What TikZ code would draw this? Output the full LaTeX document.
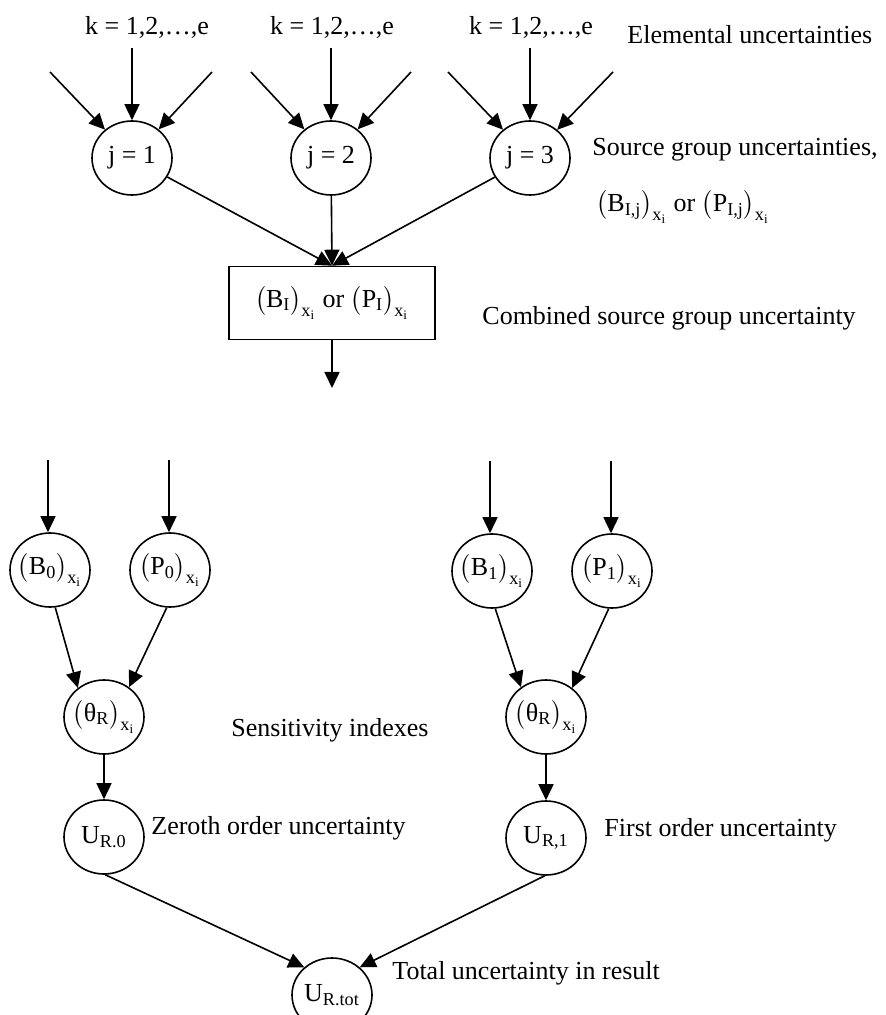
\documentclass[tikz,border=0pt]{standalone}
\usepackage{amsmath}
\usepackage{fontspec}
\setmainfont{Liberation Serif}
\usetikzlibrary{shapes.geometric,arrows.meta}
\newcommand\tx[1]{\text{#1}}
\newcommand\prx[2]{\bigl(\tx{#1}_{\tx{#2}}\bigr)_{\tx{x}_{\tx{i}}}}
\newcommand\fitin[1]{\makebox[0pt]{#1}}
\begin{document}
\begin{tikzpicture}[x=0.5pt,y=-0.5pt,
  every node/.style={font=\fontsize{13}{15}\selectfont},
  circ/.style={draw, ellipse, line width=0.8pt, minimum width=40pt, minimum height=37pt, inner sep=0pt},
  boxnode/.style={draw, rectangle, line width=0.8pt, minimum width=103pt, minimum height=36.5pt, inner sep=0pt},
  lbl/.style={anchor=west, inner sep=0pt},
  flow/.style={line width=0.8pt, -{Triangle[length=8pt,width=7.5pt]}},
  link/.style={line width=0.8pt}
]
\useasboundingbox (0,0) rectangle (885,1015);

% top labels
\node (k1) at (147,27) {k = 1,2,…,e};
\node (k2) at (332,27) {k = 1,2,…,e};
\node (k3) at (531,27) {k = 1,2,…,e};

% source group nodes
\node[circ] (j1) at (132,158) {j = 1};
\node[circ] (j2) at (331,158) {j = 2};
\node[circ] (j3) at (530,158) {j = 3};

% elemental inputs
\coordinate (a1) at (50,72);  \coordinate (b1) at (132,48); \coordinate (c1) at (212,72);
\coordinate (a2) at (251,72); \coordinate (b2) at (331,48); \coordinate (c2) at (411,72);
\coordinate (a3) at (448,72); \coordinate (b3) at (530,48); \coordinate (c3) at (613,72);
\foreach \i in {1,2,3}{
  \draw[flow] (a\i) -- (j\i);
  \draw[flow] (b\i) -- (j\i);
  \draw[flow] (c\i) -- (j\i);
}

% combined box
\node[boxnode] (box) at (332,303) {$\prx{B}{I}$ or $\prx{P}{I}$};
\draw[flow] (j1) -- (box.north);
\draw[flow] (j2) -- (box.north);
\draw[flow] (j3) -- (box.north);
\coordinate (out) at (332,388);
\draw[flow] (box) -- (out);

% right-hand labels (top)
\node[lbl] (t1) at (627,35) {Elemental uncertainties};
\node[lbl] (t2) at (592,150) {Source group uncertainties,};
\node[lbl] (t3) at (596,207) {$\prx{B}{I,j}$ or $\prx{P}{I,j}$};
\node[lbl] (t4) at (482,318) {Combined source group uncertainty};

% lower nodes
\node[circ] (B0) at (50,570) {\fitin{$\prx{B}{0}$}};
\node[circ] (P0) at (170,570) {\fitin{$\prx{P}{0}$}};
\node[circ] (B1) at (492,571) {\fitin{$\prx{B}{1}$}};
\node[circ] (P1) at (612,571) {\fitin{$\prx{P}{1}$}};
\node[circ] (thL) at (104,717) {\fitin{$\prx{θ}{R}$}};
\node[circ] (thR) at (546,717) {\fitin{$\prx{θ}{R}$}};
\node[circ] (U0) at (104,837) {$\tx{U}_{\tx{R.0}}$};
\node[circ] (U1) at (546,838) {$\tx{U}_{\tx{R,1}}$};
\node[circ] (Ut) at (332,995) {$\tx{U}_{\tx{R.tot}}$};

\coordinate (iB0) at (48,460);
\coordinate (iP0) at (169,460);
\coordinate (iB1) at (490,461);
\coordinate (iP1) at (611,461);
\draw[flow] (iB0) -- (iB0 |- B0.north);
\draw[flow] (iP0) -- (iP0 |- P0.north);
\draw[flow] (iB1) -- (iB1 |- B1.north);
\draw[flow] (iP1) -- (iP1 |- P1.north);

\draw[flow] (B0.-82) -- (thL.132);
\draw[flow] (P0.-95) -- (thL.50);
\draw[flow] (B1.-85) -- (thR.130);
\draw[flow] (P1.-95) -- (thR.48);
\draw[flow] (thL) -- (U0);
\draw[flow] (thR) -- (U1);
\draw[flow] (U0.-88) -- (Ut.135);
\draw[flow] (U1.-92) -- (Ut.45);

% lower labels
\node[lbl] (s1) at (231,730) {Sensitivity indexes};
\node[lbl] (s2) at (151,828) {Zeroth order uncertainty};
\node[lbl] (s3) at (604,830) {First order uncertainty};
\node[lbl] (s4) at (392,973) {Total uncertainty in result};
\end{tikzpicture}
\end{document}
